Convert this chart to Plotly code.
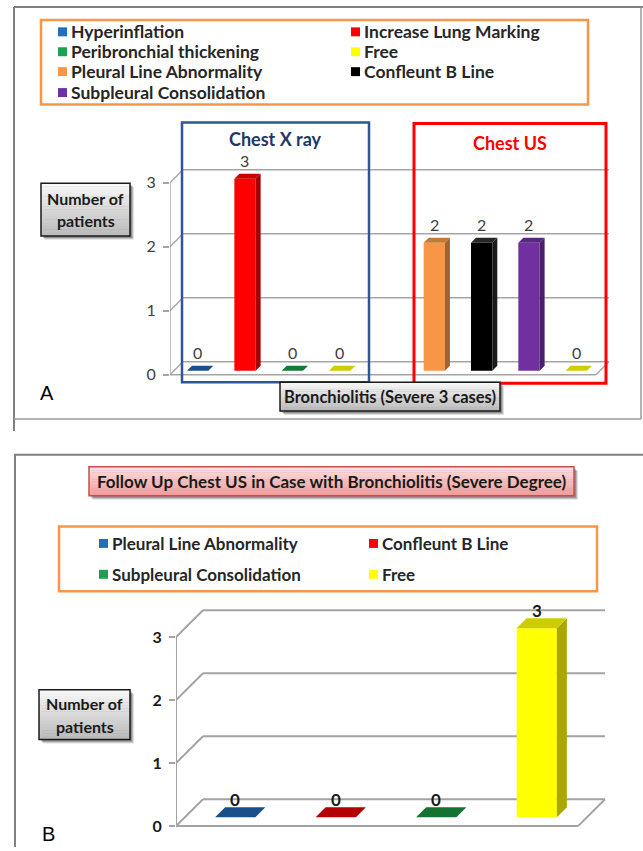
import plotly.graph_objects as go

W, H = 643, 851

# ---------------- data ----------------
xray_labels = ["Hyperinflation", "Increase Lung Marking", "Peribronchial thickening", "Free"]
xray_values = [0, 3, 0, 0]
xray_colors = ["#1f64b0", "#ff0000", "#1a9a45", "#ffff00"]

us_labels = ["Pleural Line Abnormality", "Confleunt B Line", "Subpleural Consolidation", "Free"]
us_values = [2, 2, 2, 0]
us_colors = ["#f79646", "#000000", "#7030a0", "#ffff00"]

followup_labels = ["Pleural Line Abnormality", "Confleunt B Line", "Subpleural Consolidation", "Free"]
followup_values = [0, 0, 0, 3]
followup_colors = ["#1f62ac", "#e00000", "#1a9040", "#ffff00"]

y_ticks = [0, 1, 2, 3]

legend_a = [("Hyperinflation", "#1f6fc0"), ("Increase Lung Marking", "#ff0000"),
            ("Peribronchial thickening", "#1fa050"), ("Free", "#ffff00"),
            ("Pleural Line Abnormality", "#f79646"), ("Confleunt B Line", "#000000"),
            ("Subpleural Consolidation", "#7030a0")]
legend_b = [("Pleural Line Abnormality", "#1f6fc0"), ("Confleunt B Line", "#ff0000"),
            ("Subpleural Consolidation", "#1fa050"), ("Free", "#ffff00")]

FONT = "Lato"


def fx(p):
    return p / W


def fy(p):
    return 1 - p / H


def shade(hex_color, f):
    h = hex_color.lstrip("#")
    r, g, b = (int(h[i:i + 2], 16) for i in (0, 2, 4))
    return "#%02x%02x%02x" % (int(r * f), int(g * f), int(b * f))


def mix(c1, c2, t):
    a = [int(c1.lstrip("#")[i:i + 2], 16) for i in (0, 2, 4)]
    b = [int(c2.lstrip("#")[i:i + 2], 16) for i in (0, 2, 4)]
    return "#%02x%02x%02x" % tuple(int(a[i] + (b[i] - a[i]) * t) for i in range(3))


fig = go.Figure()
shapes = []
annotations = []

# panel geometry (pixels)
geom = {
    "A": dict(x0=170, slot=47.33, nslots=9, y0=376.5, ky=64.3, wall=13, mid=4,
              depth=5, width=0.45, ytop=3.25, xa="x", ya="y", gcol="#a6a6a6", gw=1.5),
    "B": dict(x0=176, slot=100.5, nslots=4, y0=830, ky=63.3, wall=27, mid=9,
              depth=10, width=0.4, ytop=3.5, xa="x2", ya="y2", gcol="#a3a3a3", gw=2),
}


def axes_for(g):
    xr1 = g["nslots"] - 0.5 + (g["wall"] + 6) / g["slot"]
    xdom = [fx(g["x0"]), fx(g["x0"] + (xr1 + 0.5) * g["slot"])]
    ydom = [fy(g["y0"] + 0.08 * g["ky"]), fy(g["y0"] - g["ytop"] * g["ky"])]
    return [-0.5, xr1], xdom, [-0.08, g["ytop"]], ydom


def draw_frame(g):
    wdx, wdy = g["wall"] / g["slot"], g["wall"] / g["ky"]
    xl, xr = -0.5, g["nslots"] - 0.5
    line = dict(color=g["gcol"], width=g["gw"])
    common = dict(type="line", xref=g["xa"], yref=g["ya"], line=line, layer="below")
    for v in y_ticks:
        # back wall gridline and its link to the front axis
        shapes.append(dict(common, x0=xl + wdx, x1=xr + wdx, y0=v + wdy, y1=v + wdy))
        shapes.append(dict(common, x0=xl, x1=xl + wdx, y0=v, y1=v + wdy))
    # floor front edge and right side
    shapes.append(dict(common, x0=xl, x1=xr, y0=0, y1=0))
    shapes.append(dict(common, x0=xr, x1=xr + wdx, y0=0, y1=wdy))
    # front value axis
    shapes.append(dict(common, x0=xl, x1=xl, y0=0, y1=max(y_ticks)))


def draw_bars(g, positions, values, colors, label_font, label_shift):
    mdx, mdy = g["mid"] / g["slot"], g["mid"] / g["ky"]
    bdx, bdy = g["depth"] / g["slot"], g["depth"] / g["ky"]
    w = g["width"]
    xs = [p + mdx for p in positions]
    fig.add_trace(go.Bar(x=xs, y=values, base=mdy, width=w,
                         marker=dict(color=colors, line=dict(width=0)),
                         xaxis=g["xa"], yaxis=g["ya"], showlegend=False, hoverinfo="skip"))
    for x, v, c in zip(xs, values, colors):
        xl, xr = x - w / 2, x + w / 2
        yb, yt = mdy, mdy + v
        if v > 0:
            fig.add_trace(go.Scatter(
                x=[xr, xr + bdx, xr + bdx, xr, xr], y=[yb, yb + bdy, yt + bdy, yt, yb],
                fill="toself", fillcolor=shade(c, 0.66) if c != "#000000" else "#1a1a1a",
                mode="lines", line=dict(width=0), xaxis=g["xa"], yaxis=g["ya"],
                showlegend=False, hoverinfo="skip"))
        fig.add_trace(go.Scatter(
            x=[xl, xr, xr + bdx, xl + bdx, xl], y=[yt, yt, yt + bdy, yt + bdy, yt],
            fill="toself", fillcolor=shade(c, 0.8) if c != "#000000" else "#262626",
            mode="lines", line=dict(width=0), xaxis=g["xa"], yaxis=g["ya"],
            showlegend=False, hoverinfo="skip"))
        annotations.append(dict(x=x, y=yt, xref=g["xa"], yref=g["ya"], text=str(v),
                                showarrow=False, yshift=label_shift, font=label_font))


def grad_box(x0, y0, x1, y1, top, bottom, border, bw=1.5, n=16, shadow=True):
    if shadow:
        for off, a in ((4, 0.12), (3, 0.18), (2, 0.22)):
            shapes.append(dict(type="rect", xref="paper", yref="paper",
                               x0=fx(x0 + off), x1=fx(x1 + off), y0=fy(y1 + off), y1=fy(y0 + off),
                               line=dict(width=0), fillcolor="rgba(0,0,0,%s)" % a))
    step = (y1 - y0) / n
    for i in range(n):
        shapes.append(dict(type="rect", xref="paper", yref="paper",
                           x0=fx(x0), x1=fx(x1), y0=fy(y0 + (i + 1) * step + 0.3), y1=fy(y0 + i * step),
                           line=dict(width=0), fillcolor=mix(top, bottom, i / (n - 1))))
    shapes.append(dict(type="rect", xref="paper", yref="paper",
                       x0=fx(x0), x1=fx(x1), y0=fy(y1), y1=fy(y0),
                       line=dict(color=border, width=bw), fillcolor="rgba(0,0,0,0)"))


def paper_rect(x0, y0, x1, y1, color, width):
    shapes.append(dict(type="rect", xref="paper", yref="paper",
                       x0=fx(x0), x1=fx(x1), y0=fy(y1), y1=fy(y0),
                       line=dict(color=color, width=width), fillcolor="rgba(0,0,0,0)"))


def paper_line(x0, y0, x1, y1, color="#808080", width=2):
    shapes.append(dict(type="line", xref="paper", yref="paper",
                       x0=fx(x0), x1=fx(x1), y0=fy(y0), y1=fy(y1),
                       line=dict(color=color, width=width)))


def text(x, y, s, size=15, color="#262626", weight="bold", xanchor="center", family=FONT):
    annotations.append(dict(x=fx(x), y=fy(y), xref="paper", yref="paper", text=s,
                            showarrow=False, xanchor=xanchor, yanchor="middle",
                            font=dict(family=family, size=size, color=color, weight=weight)))


def legend(entries, cols_x, rows_y, size):
    for i, (name, c) in enumerate(entries):
        cx = cols_x[i % 2]
        ry = rows_y[i // 2]
        shapes.append(dict(type="rect", xref="paper", yref="paper",
                           x0=fx(cx), x1=fx(cx + 9), y0=fy(ry + 4.5), y1=fy(ry - 4.5),
                           line=dict(width=0), fillcolor=c))
        text(cx + 11, ry, name, size=size, xanchor="left")


# ---------------- panel A ----------------
gA = geom["A"]
paper_line(14, 7, 643, 7)
paper_line(14, 7, 14, 433)
paper_line(641, 7, 641, 421, color="#9a9a9a", width=1.5)
paper_line(14, 421, 641, 421, color="#9a9a9a", width=1.5)

paper_rect(41, 20, 588, 105, "#f79646", 2.5)
legend(legend_a, [58, 351], [32, 52, 72, 93], 17.5)

draw_frame(gA)
pos_xray = list(range(len(xray_values)))
pos_us = [len(xray_values) + 1 + i for i in range(len(us_values))]
lbl_a = dict(family=FONT, size=16, color="#404040")
draw_bars(gA, pos_xray, xray_values, xray_colors, lbl_a, 18)
draw_bars(gA, pos_us, us_values, us_colors, lbl_a, 18)

paper_rect(182, 123, 369, 384, "#2f5597", 2.5)
paper_rect(414, 124, 606, 385, "#ff0000", 3)
text(275, 140, "Chest X ray", size=18, color="#1f3864")
text(510, 144, "Chest US", size=18, color="#ff0000")

grad_box(41, 184, 130, 237, "#f7f7f7", "#bcbcbc", "#1a1a1a")
text(85.5, 199, "Number of", size=16, color="#1a1a1a")
text(85.5, 222, "patients", size=16, color="#1a1a1a")
grad_box(280, 384, 500, 413, "#f7f7f7", "#bcbcbc", "#1a1a1a")
text(390, 399, "Bronchiolitis (Severe 3 cases)", size=16.5, color="#1a1a1a")
text(47, 395, "A", size=20, color="#000000", weight="normal", family="Liberation Sans")

# ---------------- panel B ----------------
gB = geom["B"]
paper_line(14, 457, 643, 457)
paper_line(15, 457, 15, 851)

grad_box(89, 469, 574, 498, "#fde0e0", "#f29c9c", "#c0504d", bw=1.5)
text(331.5, 484, "Follow Up Chest US in Case with Bronchiolitis (Severe Degree)", size=17, color="#1a1a1a")

paper_rect(59, 529, 597, 594, "#f79646", 2.5)
legend(legend_b, [99, 369], [546, 577], 17)

draw_frame(gB)
pos_fu = list(range(len(followup_values)))
draw_bars(gB, pos_fu, followup_values, followup_colors,
          dict(family=FONT, size=17, color="#1a1a1a", weight="bold"), 18)

grad_box(39, 693, 130, 743, "#f7f7f7", "#bcbcbc", "#1a1a1a")
text(84.5, 707, "Number of", size=16, color="#1a1a1a")
text(84.5, 730, "patients", size=16, color="#1a1a1a")
text(48, 838, "B", size=20, color="#000000", weight="normal", family="Liberation Sans")

# ---------------- axes ----------------
layout_axes = {}
for key, g, tick_font in (("", gA, dict(family=FONT, size=16, color="#404040")),
                          ("2", gB, dict(family=FONT, size=16, color="#1a1a1a", weight="bold"))):
    xrng, xdom, yrng, ydom = axes_for(g)
    layout_axes["xaxis" + key] = dict(range=xrng, domain=xdom, visible=False, fixedrange=True,
                                      anchor="y" + key)
    layout_axes["yaxis" + key] = dict(range=yrng, domain=ydom, tickvals=y_ticks,
                                      ticks="outside", ticklen=6, tickwidth=1.5,
                                      tickcolor=g["gcol"], showgrid=False, zeroline=False,
                                      showline=False, tickfont=tick_font, ticklabelstandoff=4,
                                      anchor="x" + key, fixedrange=True)

fig.update_layout(
    width=W, height=H, autosize=False,
    margin=dict(l=0, r=0, t=0, b=0),
    paper_bgcolor="white", plot_bgcolor="rgba(0,0,0,0)",
    barmode="overlay",
    shapes=shapes, annotations=annotations,
    showlegend=False,
    **layout_axes,
)

fig.write_html("out.html")
